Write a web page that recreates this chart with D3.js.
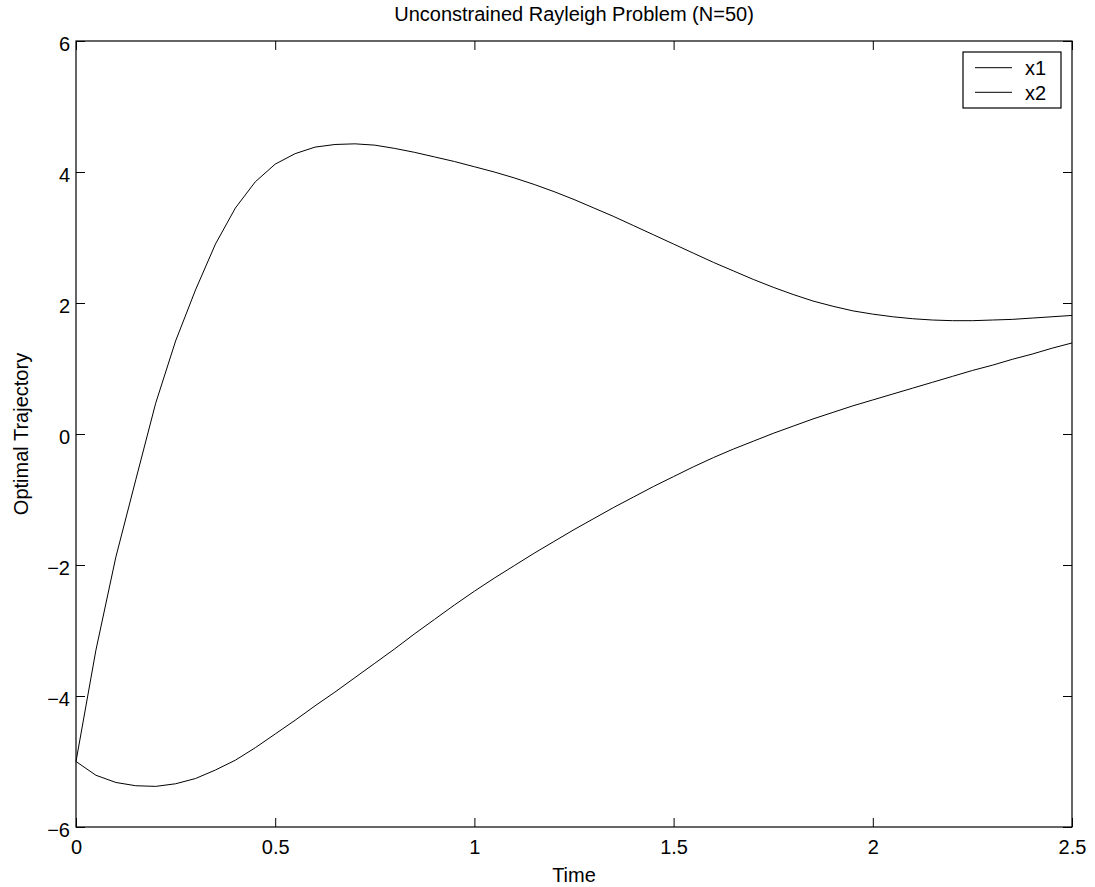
<!DOCTYPE html>
<html>
<head>
<meta charset="utf-8">
<script src="https://cdn.jsdelivr.net/npm/d3@7"></script>
<style>
  html, body { margin: 0; padding: 0; background: #fff; }
  text { font-family: "Liberation Sans", Arial, Helvetica, sans-serif; fill: #000; }
</style>
</head>
<body>
<svg id="chart" width="1095" height="887"></svg>
<script>
const title = "Unconstrained Rayleigh Problem (N=50)";
const xLabel = "Time";
const yLabel = "Optimal Trajectory";
const seriesNames = ["x1", "x2"];
const xTicks = [0, 0.5, 1, 1.5, 2, 2.5];
const yTicks = [-6, -4, -2, 0, 2, 4, 6];

// time grid (N=50 intervals on [0, 2.5])
const time = [0,0.05,0.1,0.15,0.2,0.25,0.3,0.35,0.4,0.45,0.5,0.55,0.6,0.65,0.7,0.75,0.8,0.85,0.9,0.95,
  1,1.05,1.1,1.15,1.2,1.25,1.3,1.35,1.4,1.45,1.5,1.55,1.6,1.65,1.7,1.75,1.8,1.85,1.9,1.95,
  2,2.05,2.1,2.15,2.2,2.25,2.3,2.35,2.4,2.45,2.5];

const x1 = [-5.00,-5.21,-5.32,-5.37,-5.38,-5.34,-5.26,-5.13,-4.98,-4.79,-4.58,-4.37,-4.15,-3.94,-3.72,-3.50,-3.28,-3.05,-2.83,-2.61,
  -2.40,-2.20,-2.01,-1.82,-1.64,-1.46,-1.29,-1.12,-0.96,-0.80,-0.65,-0.50,-0.36,-0.23,-0.11,0.01,0.12,0.23,0.33,0.43,
  0.52,0.61,0.70,0.79,0.88,0.97,1.05,1.14,1.22,1.31,1.39];

const x2 = [-5.00,-3.30,-1.88,-0.70,0.47,1.42,2.20,2.90,3.45,3.85,4.12,4.28,4.38,4.42,4.43,4.41,4.36,4.30,4.23,4.16,
  4.08,4.00,3.91,3.81,3.70,3.58,3.45,3.32,3.18,3.04,2.90,2.76,2.62,2.49,2.36,2.24,2.13,2.03,1.95,1.88,
  1.83,1.79,1.76,1.74,1.73,1.73,1.74,1.75,1.77,1.79,1.81];

const svg = d3.select("#chart");
const L = 76, R = 1072, T = 41, B = 827;
const FS = 20;
const x = d3.scaleLinear().domain([0, 2.5]).range([L, R]);
const y = d3.scaleLinear().domain([-6, 6]).range([B, T]);
const tickLen = 9;

// frame
svg.append("rect").attr("x", L).attr("y", T).attr("width", R - L).attr("height", B - T)
  .attr("fill", "none").attr("stroke", "#000").attr("stroke-width", 1.2);

// axes with inward ticks
const gBottom = svg.append("g").attr("transform", `translate(0,${B})`)
  .call(d3.axisBottom(x).tickValues(xTicks).tickSizeInner(-tickLen).tickSizeOuter(0).tickPadding(13).tickFormat(d => d3.format("")(d)));
const gTop = svg.append("g").attr("transform", `translate(0,${T})`)
  .call(d3.axisTop(x).tickValues(xTicks).tickSizeInner(-tickLen).tickSizeOuter(0).tickFormat(""));
const gLeft = svg.append("g").attr("transform", `translate(${L},0)`)
  .call(d3.axisLeft(y).tickValues(yTicks).tickSizeInner(-tickLen).tickSizeOuter(0).tickPadding(6));
const gRight = svg.append("g").attr("transform", `translate(${R},0)`)
  .call(d3.axisRight(y).tickValues(yTicks).tickSizeInner(-tickLen).tickSizeOuter(0).tickFormat(""));

[gBottom, gTop, gLeft, gRight].forEach(g => {
  g.select(".domain").remove();
  g.selectAll("line").attr("stroke", "#000").attr("stroke-width", 1);
  g.selectAll("text").attr("font-size", FS).attr("font-family", "Liberation Sans, Arial, sans-serif").attr("fill", "#000");
});
gLeft.selectAll("text").attr("dy", "0.45em");

// lines
const line = d3.line().x((d, i) => x(time[i])).y(d => y(d));
[x1, x2].forEach(s => {
  svg.append("path").datum(s).attr("d", line)
    .attr("fill", "none").attr("stroke", "#000").attr("stroke-width", 1);
});

// title and labels
svg.append("text").attr("x", (L + R) / 2).attr("y", 21).attr("text-anchor", "middle")
  .attr("font-size", FS).text(title);
svg.append("text").attr("x", (L + R) / 2).attr("y", 882).attr("text-anchor", "middle")
  .attr("font-size", FS).text(xLabel);
svg.append("text").attr("transform", `translate(28,${(T + B) / 2}) rotate(-90)`)
  .attr("text-anchor", "middle").attr("font-size", FS).text(yLabel);

// legend
const lg = svg.append("g");
lg.append("rect").attr("x", 963).attr("y", 52).attr("width", 98).attr("height", 56)
  .attr("fill", "#fff").attr("stroke", "#000").attr("stroke-width", 1.2);
seriesNames.forEach((name, i) => {
  const yy = 67.7 + i * 24.6;
  lg.append("line").attr("x1", 975).attr("x2", 1012).attr("y1", yy).attr("y2", yy)
    .attr("stroke", "#000").attr("stroke-width", 1);
  lg.append("text").attr("x", 1025).attr("y", yy + 7.3).attr("font-size", FS).text(name);
});
</script>
</body>
</html>
